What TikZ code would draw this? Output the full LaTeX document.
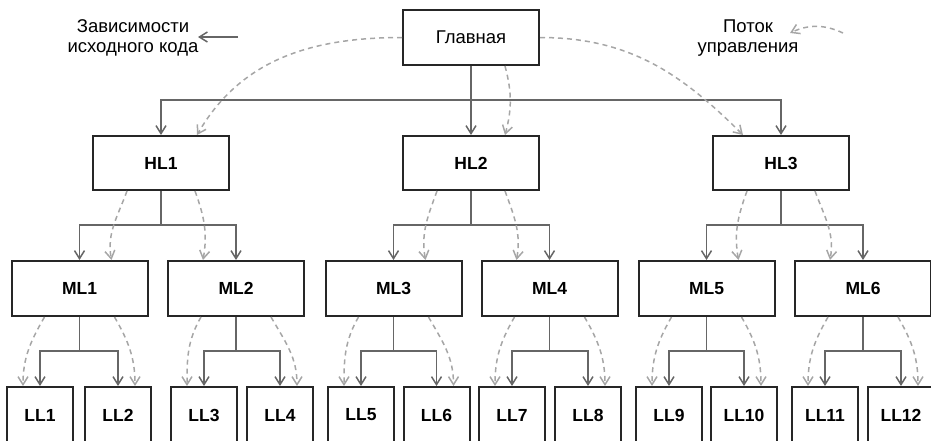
\documentclass[tikz,border=0pt]{standalone}
\usepackage{fontspec}
\setmainfont{Liberation Sans}
\usepackage{tikz}
\usetikzlibrary{arrows.meta}
\definecolor{boxc}{HTML}{262626}
\definecolor{depc}{HTML}{666666}
\definecolor{ctrlc}{HTML}{A6A6A6}

\begin{document}
\begin{tikzpicture}[x=1pt,y=1pt]
\tikzstyle{box}=[draw=boxc,line width=2pt,minimum width=136pt,minimum height=55pt,inner sep=0pt,font=\fontsize{17.5}{20}\selectfont\bfseries]
\tikzstyle{leaf}=[box,minimum width=66pt,minimum height=56pt]
\tikzstyle{legend}=[align=center,inner sep=0pt,font=\fontsize{18.5}{20}\selectfont]
\tikzstyle{dep}=[draw=depc,line width=1.5pt,-{Straight Barb[length=8pt,width=10pt]}]
\tikzstyle{ctrl}=[draw=ctrlc,line width=1.5pt,dash pattern=on 5pt off 4pt,-{Straight Barb[length=8pt,width=10pt]}]
    \useasboundingbox (0,0) rectangle (931,-440);
    \clip (0,0) rectangle (931,-440);
    % legend
    \node[legend] (deps) at (133,-38) {Зависимости\\исходного кода};
    \node[legend] (flow) at (748,-38) {Поток\\управления};
    \coordinate (depA) at (238,-37);
    \coordinate (depB) at (198,-37);
    \coordinate (flowA) at (843,-33);
    \coordinate (flowB) at (790,-33);
    \draw[dep] (depA) -- (depB);
    \draw[ctrl] (flowA) to[bend right=25] (flowB);
    % nodes
    \node[box,font=\fontsize{18.5}{20}\selectfont] (main) at (471,-37.5) {Главная};
    \node[box,minimum height=54pt] (HL1) at (161,-163) {HL1};
    \node[box,minimum height=54pt] (HL2) at (471,-163) {HL2};
    \node[box,minimum height=54pt] (HL3) at (781,-163) {HL3};
    \node[box] (ML1) at (79.5,-288.5) {ML1};
    \node[box] (ML2) at (236,-288.5) {ML2};
    \node[box] (ML3) at (393.5,-288.5) {ML3};
    \node[box] (ML4) at (549.5,-288.5) {ML4};
    \node[box] (ML5) at (706.5,-288.5) {ML5};
    \node[box] (ML6) at (863,-288.5) {ML6};
    \node[leaf] (LL1) at (40,-415) {LL1};
    \node[leaf] (LL2) at (118,-415) {LL2};
    \node[leaf] (LL3) at (204,-415) {LL3};
    \node[leaf] (LL4) at (280,-415) {LL4};
    \node[leaf] (LL5) at (361,-415) {LL5};
    \node[leaf] (LL6) at (436.5,-415) {LL6};
    \node[leaf] (LL7) at (512,-415) {LL7};
    \node[leaf] (LL8) at (588,-415) {LL8};
    \node[leaf] (LL9) at (669,-415) {LL9};
    \node[leaf] (LL10) at (744,-415) {LL10};
    \node[leaf] (LL11) at (825,-415) {LL11};
    \node[leaf] (LL12) at (901,-415) {LL12};
    % source code dependencies
    \coordinate (b0) at (471,-100);
    \coordinate (b1) at (161,-225);
    \coordinate (b2) at (471,-225);
    \coordinate (b3) at (781,-225);
    \coordinate (c1) at (79.5,-351);
    \coordinate (c2) at (236,-351);
    \coordinate (c3) at (393.5,-351);
    \coordinate (c4) at (549.5,-351);
    \coordinate (c5) at (706.5,-351);
    \coordinate (c6) at (863,-351);
    \draw[dep,-] (main) -- (b0);
    \draw[dep] (b0) -| (HL1);
    \draw[dep] (b0) -- (HL2);
    \draw[dep] (b0) -| (HL3);
    \draw[dep,-] (HL1) -- (b1);
    \draw[dep] (b1) -| (ML1);
    \draw[dep] (b1) -| (ML2);
    \draw[dep,-] (HL2) -- (b2);
    \draw[dep] (b2) -| (ML3);
    \draw[dep] (b2) -| (ML4);
    \draw[dep,-] (HL3) -- (b3);
    \draw[dep] (b3) -| (ML5);
    \draw[dep] (b3) -| (ML6);
    \draw[dep,-] (ML1) -- (c1);
    \draw[dep] (c1) -| (LL1);
    \draw[dep] (c1) -| (LL2);
    \draw[dep,-] (ML2) -- (c2);
    \draw[dep] (c2) -| (LL3);
    \draw[dep] (c2) -| (LL4);
    \draw[dep,-] (ML3) -- (c3);
    \draw[dep] (c3) -| (LL5);
    \draw[dep] (c3) -| (LL6);
    \draw[dep,-] (ML4) -- (c4);
    \draw[dep] (c4) -| (LL7);
    \draw[dep] (c4) -| (LL8);
    \draw[dep,-] (ML5) -- (c5);
    \draw[dep] (c5) -| (LL9);
    \draw[dep] (c5) -| (LL10);
    \draw[dep,-] (ML6) -- (c6);
    \draw[dep] (c6) -| (LL11);
    \draw[dep] (c6) -| (LL12);
    % flow of control
    \draw[ctrl] (main.west) to[out=180,in=60] ([xshift=36pt]HL1.north);
    \draw[ctrl] ([xshift=34pt]main.south) to[out=-75,in=75] ([xshift=34pt]HL2.north);
    \draw[ctrl] (main.east) to[out=0,in=135] ([xshift=-38pt]HL3.north);
    \draw[ctrl] ([xshift=-34pt]HL1.south) to[out=-110,in=100] ([xshift=32pt]ML1.north);
    \draw[ctrl] ([xshift=34pt]HL1.south) to[out=-70,in=80] ([xshift=-33pt]ML2.north);
    \draw[ctrl] ([xshift=-34pt]HL2.south) to[out=-110,in=100] ([xshift=32pt]ML3.north);
    \draw[ctrl] ([xshift=34pt]HL2.south) to[out=-70,in=80] ([xshift=-33pt]ML4.north);
    \draw[ctrl] ([xshift=-34pt]HL3.south) to[out=-110,in=100] ([xshift=32pt]ML5.north);
    \draw[ctrl] ([xshift=34pt]HL3.south) to[out=-70,in=80] ([xshift=-33pt]ML6.north);
    \draw[ctrl] ([xshift=-35pt]ML1.south) to[out=-120,in=90] ([xshift=-17pt]LL1.north);
    \draw[ctrl] ([xshift=35pt]ML1.south) to[out=-60,in=90] ([xshift=17pt]LL2.north);
    \draw[ctrl] ([xshift=-35pt]ML2.south) to[out=-120,in=90] ([xshift=-17pt]LL3.north);
    \draw[ctrl] ([xshift=35pt]ML2.south) to[out=-60,in=90] ([xshift=17pt]LL4.north);
    \draw[ctrl] ([xshift=-35pt]ML3.south) to[out=-120,in=90] ([xshift=-17pt]LL5.north);
    \draw[ctrl] ([xshift=35pt]ML3.south) to[out=-60,in=90] ([xshift=17pt]LL6.north);
    \draw[ctrl] ([xshift=-35pt]ML4.south) to[out=-120,in=90] ([xshift=-17pt]LL7.north);
    \draw[ctrl] ([xshift=35pt]ML4.south) to[out=-60,in=90] ([xshift=17pt]LL8.north);
    \draw[ctrl] ([xshift=-35pt]ML5.south) to[out=-120,in=90] ([xshift=-17pt]LL9.north);
    \draw[ctrl] ([xshift=35pt]ML5.south) to[out=-60,in=90] ([xshift=17pt]LL10.north);
    \draw[ctrl] ([xshift=-35pt]ML6.south) to[out=-120,in=90] ([xshift=-17pt]LL11.north);
    \draw[ctrl] ([xshift=35pt]ML6.south) to[out=-60,in=90] ([xshift=17pt]LL12.north);
  \end{tikzpicture}
\end{document}
